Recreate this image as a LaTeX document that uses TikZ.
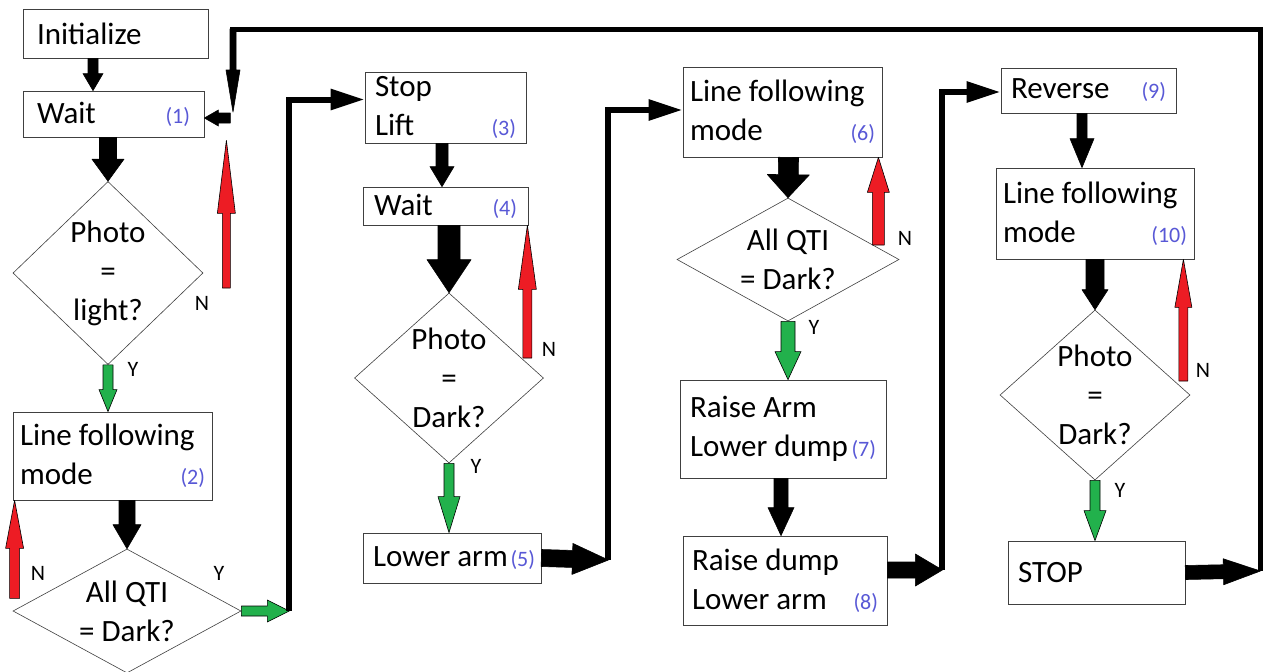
\documentclass[tikz,border=0pt]{standalone}
\usepackage{fontspec}
\setmainfont{Carlito}
\usetikzlibrary{%
  positioning
 ,calc
 ,arrows.meta
 ,shapes.geometric
}
\definecolor{arrowred}{RGB}{237,28,36}
\definecolor{arrowgreen}{RGB}{34,177,76}
\definecolor{stepblue}{RGB}{88,88,214}

\newcommand{\bigtxt}{\fontsize{31}{39}\selectfont}
\newcommand{\stepno}[1]{\hskip 0pt plus 1filll{\fontsize{22}{26}\selectfont\color{stepblue}(#1)}}

\tikzstyle{box}=[draw=black!75,line width=0.8pt,fill=white,align=flush left,inner ysep=0pt,font=\bigtxt]
\tikzstyle{decision}=[diamond,draw=black!75,line width=0.6pt,fill=white,inner sep=0pt]
\tikzstyle{dtext}=[font=\bigtxt,align=center,inner sep=0pt]
\tikzstyle{yn}=[font=\fontsize{22}{26}\selectfont,inner sep=0pt]
\tikzstyle{feed}=[line width=6pt,-{Triangle[length=34pt,width=20pt]}]
\tikzstyle{loopback}=[line width=5pt]
% width, height, side padding
\tikzset{boxsize/.code n args={3}{\pgfmathsetmacro\bxw{#1-2*#3}%
  \edef\bxtmp{\noexpand\tikzset{text width=\bxw pt,minimum height=#2pt,inner xsep=#3pt}}\bxtmp}}

% fat arrow: [fill] from, to, half shaft, half head, head length
\newcommand{\barrow}[6][black]{%
  \coordinate (ba-s) at #2;
  \coordinate (ba-e) at #3;
  \coordinate (ba-h) at ($(ba-e)!#6pt!(ba-s)$);
  \filldraw[fill=#1,draw=black,line width=0.6pt,line join=round]
    ($(ba-s)!#4pt!90:(ba-e)$) -- ($(ba-h)!#4pt!-90:(ba-s)$) -- ($(ba-h)!#5pt!-90:(ba-s)$)
    -- (ba-e) -- ($(ba-h)!#5pt!90:(ba-s)$) -- ($(ba-h)!#4pt!90:(ba-s)$)
    -- ($(ba-s)!#4pt!-90:(ba-e)$) -- cycle;
}

\begin{document}
\begin{tikzpicture}[x=1pt,y=-1pt]
  \useasboundingbox (0,0) rectangle (1264,672);
  \fill[white] (0,0) rectangle (1264,672);

  % first column
  \node[box,boxsize={185}{49}{14}] (init) at (115.5,33.5) {Initialize};
  \node[box,boxsize={181}{46}{14}] (wait1) at (113.5,114) {Wait\stepno{1}};
  \node[decision,minimum width=190pt,minimum height=183pt,
    label={[dtext]center:{Photo\\=\\light?}}] (photo1) at (108,273) {};
  \node[box,boxsize={199}{88}{7}] (follow2) at (112.5,456) {Line following\\mode\stepno{2}};
  \node[decision,minimum width=228pt,minimum height=124pt,
    label={[dtext]center:{All QTI\\= Dark?}}] (qti2) at (127,611) {};

  % second column
  \node[box,boxsize={161}{71}{10}] (stoplift) at (445.5,107.5) {Stop\\Lift\stepno{3}};
  \node[box,boxsize={165}{38}{11}] (wait4) at (445.5,206) {Wait\stepno{4}};
  \node[decision,minimum width=189pt,minimum height=170pt,
    label={[dtext]center:{Photo\\=\\Dark?}}] (photo3) at (449,378) {};
  \node[box,boxsize={178}{50}{6}] (lowerarm) at (452,558) {\hspace{4pt}Lower arm\stepno{5}};

  % third column
  \node[box,boxsize={199}{90}{7}] (follow6) at (782.5,112) {Line following\\mode\stepno{6}};
  \node[decision,minimum width=222pt,minimum height=123pt,
    label={[dtext]center:{All QTI\\= Dark?}}] (qti6) at (788,259.5) {};
  \node[box,boxsize={206}{98}{10}] (raise7) at (783,429) {Raise Arm\\Lower dump\stepno{7}};
  \node[box,boxsize={204}{89}{9}] (raise8) at (785,580.5) {Raise dump\\Lower arm\stepno{8}};

  % fourth column
  \node[box,boxsize={175}{45}{10}] (reverse) at (1088.5,90.5) {Reverse\stepno{9}};
  \node[box,boxsize={198}{91}{7}] (follow10) at (1095,213.5) {Line following\\mode\stepno{10}};
  \node[decision,minimum width=190pt,minimum height=170pt,
    label={[dtext]center:{Photo\\=\\Dark?}}] (photo10) at (1095,395) {};
  \node[box,boxsize={177}{63}{10}] (stop) at (1096.5,572.5) {STOP};

  % yes / no marks
  \node[yn] (n1) at (202,303) {N};
  \node[yn] (y1) at (133,369) {Y};
  \node[yn] (n2) at (38,573) {N};
  \node[yn] (y2) at (219,573) {Y};
  \node[yn] (n3) at (549,349) {N};
  \node[yn] (y3) at (476,466) {Y};
  \node[yn] (n6) at (905,238) {N};
  \node[yn] (y6) at (814,327) {Y};
  \node[yn] (n10) at (1203,370) {N};
  \node[yn] (y10) at (1120,490) {Y};

  % column 1 arrows
  \barrow{($(init.south)+(-22.5,0)$)}{($(wait1.north)+(-20.5,0)$)}{5}{10}{17}
  \barrow{($(wait1.south)+(-5.5,0)$)}{(photo1.north)}{8.5}{16}{22}
  \barrow[arrowgreen]{(photo1.south)}{($(follow2.north)+(-4.5,0)$)}{5}{9}{22}
  \barrow[arrowred]{($(photo1.east)+(23,15)$)}{($(wait1.south east)+(22,3)$)}{4}{9}{73}
  \barrow{($(follow2.south)+(14.5,0)$)}{(qti2.north)}{8}{14}{24}
  \barrow[arrowred]{($(follow2.south west)+(2,98)$)}{($(follow2.south west)+(2,0)$)}{5}{9}{48}
  \coordinate (j1) at ($(qti2.east)+(48,0)$);
  \barrow[arrowgreen]{(qti2.east)}{(j1)}{5}{11}{22}
  \draw[feed] (j1) |- ($(stoplift.west)+(0,-8)$);

  % column 2 arrows
  \barrow{($(stoplift.south)+(-3.5,0)$)}{($(wait4.north)+(-3.5,0)$)}{6}{12}{20}
  \barrow{($(wait4.south)+(3.5,0)$)}{(photo3.north)}{11}{22}{33}
  \barrow[arrowred]{($(photo3.east)+(-16.5,-20)$)}{($(wait4.south east)+(-1,0)$)}{4.5}{9}{64}
  \barrow[arrowgreen]{(photo3.south)}{($(lowerarm.north)+(-3,0)$)}{5}{11}{36}
  \coordinate (j2) at ($(lowerarm.east)+(67,2)$);
  \barrow{(lowerarm.east)}{(j2)}{8.5}{15.5}{36}
  \draw[feed] (j2) |- ($(follow6.west)+(0,-2)$);

  % column 3 arrows
  \barrow{($(follow6.south)+(6,0)$)}{(qti6.north)}{10}{21}{23}
  \barrow[arrowred]{($(qti6.east)+(-21,-14.5)$)}{($(follow6.south east)+(-4,0)$)}{6}{11}{35}
  \barrow[arrowgreen]{(qti6.south)}{($(raise7.north)+(5,0)$)}{7}{13}{28}
  \barrow{($(raise7.south)+(-2,0)$)}{($(raise8.north)+(-4,0)$)}{7}{13}{28}
  \coordinate (j3) at ($(raise8.east)+(55,-10.5)$);
  \barrow{($(raise8.east)+(0,-10.5)$)}{(j3)}{8}{16}{27}
  \draw[feed] (j3) |- ($(reverse.west)+(0,1.5)$);

  % column 4 arrows
  \barrow{($(reverse.south)+(-6.5,0)$)}{($(follow10.north)+(-13,0)$)}{5}{12}{29}
  \barrow{(follow10.south)}{(photo10.north)}{9}{13}{20}
  \barrow[arrowred]{($(photo10.east)+(-7,-14)$)}{($(follow10.south east)+(-11,0)$)}{4.5}{8.5}{48}
  \barrow[arrowgreen]{(photo10.south)}{($(stop.north)+(-1.5,0)$)}{5}{11}{30}
  \coordinate (j4) at ($(stop.east)+(75,-1.5)$);
  \barrow{(stop.east)}{(j4)}{7}{13}{37}

  % back to the start
  \coordinate (top) at (233,29);
  \coordinate (back) at (233,112);
  \draw[loopback] (j4) |- ([xshift=-3pt]top);
  \barrow{(top)}{(back)}{3}{7}{42}
  \barrow{($(wait1.east)+(26,4)$)}{($(wait1.east)+(0,4)$)}{5}{8}{14}
\end{tikzpicture}
\end{document}
